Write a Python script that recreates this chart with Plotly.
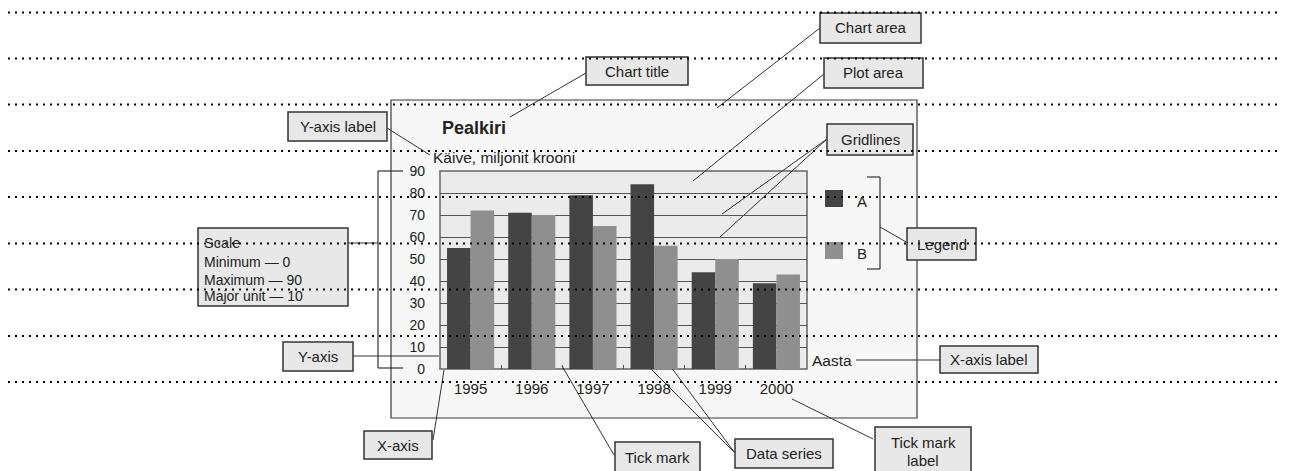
import plotly.graph_objects as go

# ---- data ----
years = ["1995", "1996", "1997", "1998", "1999", "2000"]
series_names = ["A", "B"]
values_a = [55, 71, 79, 84, 44, 39]
values_b = [72, 70, 65, 56, 50, 43]
y_ticks = [0, 10, 20, 30, 40, 50, 60, 70, 80, 90]
series_colors = ["#444444", "#8f8f8f"]

PAGE_W, PAGE_H = 1290, 471
OFF = 8  # default page body margin
W, H = PAGE_W - OFF, PAGE_H - OFF
PL, PR, PT, PB = 440, 807, 171, 369  # plot area in page pixels


def px(x):
    return (x - PL) / (PR - PL)


def py(y):
    return (PB - y) / (PB - PT)


FONT = "Liberation Sans, Arial, sans-serif"
INK = "#222222"
BOX_FS = 15

fig = go.Figure()
for name, vals, col in zip(series_names, [values_a, values_b], series_colors):
    fig.add_trace(go.Bar(x=years, y=vals, name=name, marker_color=col,
                         marker_line_width=0, hoverinfo="skip"))

shapes = []
annotations = []


def rect(x0, y0, x1, y1, fill, line="#333333", lw=1.2, layer="below"):
    shapes.append(dict(type="rect", xref="paper", yref="paper",
                       x0=px(x0), x1=px(x1), y0=py(y1), y1=py(y0),
                       fillcolor=fill, line=dict(color=line, width=lw), layer=layer))


def seg(x0, y0, x1, y1, color="#333333", lw=1, layer="below"):
    shapes.append(dict(type="line", xref="paper", yref="paper",
                       x0=px(x0), x1=px(x1), y0=py(y0), y1=py(y1),
                       line=dict(color=color, width=lw), layer=layer))


def text(x, y, s, size=BOX_FS, xanchor="center", bold=False):
    if bold:
        s = "<b>" + s + "</b>"
    annotations.append(dict(xref="paper", yref="paper", x=px(x), y=py(y), text=s,
                            showarrow=False, xanchor=xanchor, yanchor="middle",
                            font=dict(family=FONT, size=size, color=INK)))


# chart area and plot area
rect(391, 100, 917, 418, "#f7f7f7", line="#3a3a3a", lw=1.2)
rect(PL, PT, PR, PB, "#ebebeb", line="#666666", lw=1.5)

# callout boxes
boxes = [
    (820, 13, 921, 43, ["Chart area"]),
    (824, 58, 923, 88, ["Plot area"]),
    (586, 57, 688, 85, ["Chart title"]),
    (827, 124, 913, 155, ["Gridlines"]),
    (288, 112, 387, 141, ["Y-axis label"]),
    (283, 342, 353, 371, ["Y-axis"]),
    (364, 431, 432, 459, ["X-axis"]),
    (615, 442, 700, 480, ["Tick mark"]),
    (735, 439, 833, 468, ["Data series"]),
    (875, 427, 971, 480, ["Tick mark", "label"]),
    (940, 346, 1038, 373, ["X-axis label"]),
    (907, 228, 976, 260, ["Legend"]),
]
for x0, y0, x1, y1, lines in boxes:
    rect(x0, y0, x1, y1, "#e8e8e8", line="#333333", lw=1.5)
    if len(lines) == 1:
        cy = (y0 + y1) / 2 if y1 < PAGE_H else y0 + 15
        text((x0 + x1) / 2, cy, lines[0])
    else:
        text((x0 + x1) / 2, y0 + 15, lines[0])
        text((x0 + x1) / 2, y0 + 33, lines[1])

# scale box
rect(198, 228, 348, 306, "#e8e8e8", line="#333333", lw=1.5)
text(202, 243, "Scale", size=14.5, xanchor="left")
text(202, 262, "Minimum — " + str(y_ticks[0]), size=14, xanchor="left")
text(202, 280, "Maximum — " + str(y_ticks[-1]), size=14, xanchor="left")
text(202, 296, "Major unit — " + str(y_ticks[1] - y_ticks[0]), size=14, xanchor="left")

# leader lines
seg(586, 73, 510, 117)
seg(820, 28, 717, 108)
seg(824, 74, 693, 181)
seg(827, 139, 722, 214)
seg(827, 139, 720, 237)
seg(387, 128, 430, 155)
seg(353, 356, 439, 356)
seg(433, 440, 444, 370)
seg(614, 455, 562, 366)
seg(735, 453, 637, 355)
seg(735, 453, 662, 355)
seg(873, 439, 792, 399)
seg(856, 360, 940, 360)
seg(348, 243, 378, 243)
seg(880, 227, 908, 243)

# brackets
for (a, b, c, d) in [(403, 171, 378, 171), (378, 171, 378, 368), (378, 368, 403, 368),
                     (867, 177, 880, 177), (880, 177, 880, 269), (880, 269, 867, 269)]:
    seg(a, b, c, d, lw=1.2)

# legend (custom, sized like the reference)
for i, (name, col) in enumerate(zip(series_names, series_colors)):
    top = 190 + i * 52
    rect(825, top, 843, top + 17, col, line=col, lw=0)
    text(855, top + 11, name, size=BOX_FS, xanchor="left")

# titles
text(PL, 128, "Pealkiri", size=18, xanchor="left", bold=True)
text(431, 158, "Käive, miljonit krooni", size=15.5, xanchor="left")
text(810, 360, "Aasta", size=15.5, xanchor="left")

# dotted guide lines across the page
for yy in [12.5, 58.5, 104.5, 151, 197, 243.5, 289.5, 336, 382]:
    shapes.append(dict(type="line", xref="paper", yref="paper",
                       x0=px(OFF), x1=px(PAGE_W), y0=py(yy), y1=py(yy),
                       line=dict(color="#000000", width=2, dash="2px,5px"), layer="above"))

fig.update_layout(
    width=W, height=H,
    margin=dict(l=PL - OFF, r=PAGE_W - PR, t=PT - OFF, b=PAGE_H - PB, pad=0),
    paper_bgcolor="#ffffff", plot_bgcolor="rgba(0,0,0,0)",
    barmode="group", bargap=0.23, bargroupgap=0,
    showlegend=False,
    shapes=shapes, annotations=annotations,
    font=dict(family=FONT, size=12, color=INK),
)
fig.update_xaxes(type="category", showgrid=False, zeroline=False,
                 ticks="inside", tickson="boundaries", ticklen=4, tickcolor="#555555",
                 ticklabelstandoff=9, tickfont=dict(size=15, family=FONT, color=INK),
                 showline=False)
fig.update_yaxes(range=[0, 90], tickvals=y_ticks, ticktext=[str(v) for v in y_ticks],
                 showgrid=True, gridcolor="#555555", gridwidth=1, zeroline=False,
                 ticks="", ticklabelstandoff=14, showline=False,
                 tickfont=dict(size=14, family=FONT, color=INK))

fig.write_html("out.html")
